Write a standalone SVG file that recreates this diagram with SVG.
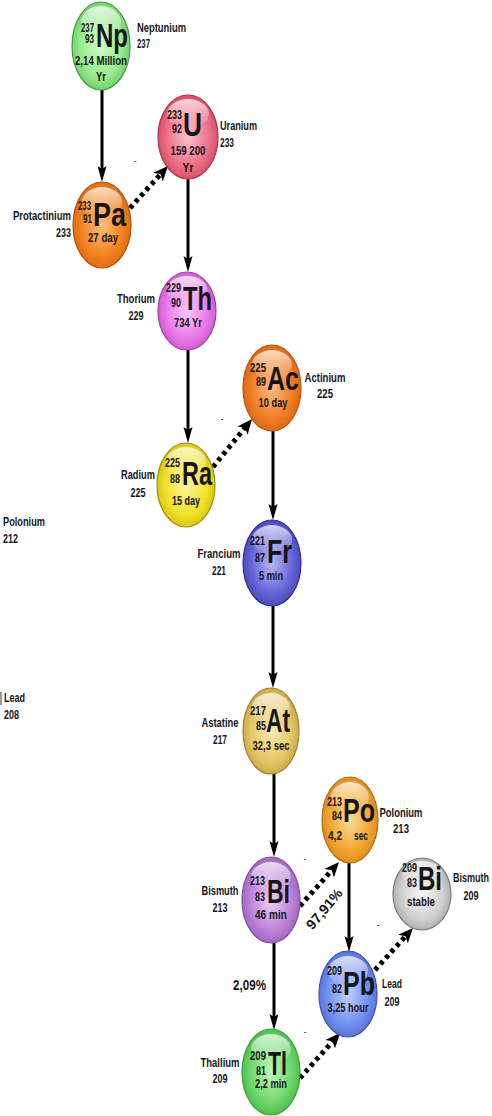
<svg xmlns="http://www.w3.org/2000/svg" width="492" height="1116" viewBox="0 0 492 1116">
  <defs>
    <style>
      text { font-family: "Liberation Sans", Arial, sans-serif; font-weight: bold; fill: #161616; }
      .n { font-size: 13px; text-anchor: end; }
      .s { font-size: 33px; }
      .h { font-size: 13px; text-anchor: middle; }
      .l { font-size: 13px; }
      .lm { font-size: 13px; text-anchor: middle; }
      .pct { font-size: 14px; }
      .m { font-size: 8px; fill: #444; text-anchor: middle; }
      .solid { stroke: #000; stroke-width: 3; fill: none; marker-end: url(#head); }
      .dot { stroke: #000; stroke-width: 5; stroke-dasharray: 4 4; fill: none; marker-end: url(#dhead); }
      .hl { fill: url(#gloss); }
      .ball { stroke-width: 1.2; }
    </style>
    <marker id="head" viewBox="0 -5 17 10" refX="10" refY="0" markerWidth="17" markerHeight="10" markerUnits="userSpaceOnUse" orient="auto">
      <path d="M0,-4.5 L16,0 L0,4.5 L3,0 Z" fill="#000"/>
    </marker>
    <marker id="dhead" viewBox="0 -7 16 14" refX="5" refY="0" markerWidth="16" markerHeight="14" markerUnits="userSpaceOnUse" orient="auto">
      <path d="M0,-6.5 L15,0 L0,6.5 L4,0 Z" fill="#000"/>
    </marker>
    <linearGradient id="gloss" x1="0" y1="0" x2="0" y2="1">
      <stop offset="0" stop-color="#fff" stop-opacity="0.75"/>
      <stop offset="1" stop-color="#fff" stop-opacity="0"/>
    </linearGradient>
    <radialGradient id="gNp" cx="50%" cy="50%" r="60%"><stop offset="0" stop-color="#d2fbc8"/><stop offset="0.6" stop-color="#98ea8e"/><stop offset="1" stop-color="#5cc05a"/></radialGradient>
    <radialGradient id="gU" cx="50%" cy="50%" r="60%"><stop offset="0" stop-color="#fbc0cc"/><stop offset="0.6" stop-color="#ec6f86"/><stop offset="1" stop-color="#c83c58"/></radialGradient>
    <radialGradient id="gPa" cx="50%" cy="50%" r="60%"><stop offset="0" stop-color="#fbbf7c"/><stop offset="0.6" stop-color="#f3831e"/><stop offset="1" stop-color="#d25e0c"/></radialGradient>
    <radialGradient id="gTh" cx="50%" cy="50%" r="60%"><stop offset="0" stop-color="#fbc8fb"/><stop offset="0.6" stop-color="#e878e8"/><stop offset="1" stop-color="#c04cc0"/></radialGradient>
    <radialGradient id="gAc" cx="50%" cy="50%" r="60%"><stop offset="0" stop-color="#fbbd8a"/><stop offset="0.6" stop-color="#f27e22"/><stop offset="1" stop-color="#d05a10"/></radialGradient>
    <radialGradient id="gRa" cx="50%" cy="50%" r="60%"><stop offset="0" stop-color="#fbf6a0"/><stop offset="0.6" stop-color="#f1e228"/><stop offset="1" stop-color="#c8b410"/></radialGradient>
    <radialGradient id="gFr" cx="50%" cy="50%" r="60%"><stop offset="0" stop-color="#b8b8f6"/><stop offset="0.6" stop-color="#6464d8"/><stop offset="1" stop-color="#3a3aa8"/></radialGradient>
    <radialGradient id="gAt" cx="50%" cy="50%" r="60%"><stop offset="0" stop-color="#f6eab8"/><stop offset="0.6" stop-color="#e4c866"/><stop offset="1" stop-color="#b89838"/></radialGradient>
    <radialGradient id="gBi" cx="50%" cy="50%" r="60%"><stop offset="0" stop-color="#ead2f6"/><stop offset="0.6" stop-color="#bc82da"/><stop offset="1" stop-color="#9058b0"/></radialGradient>
    <radialGradient id="gPo" cx="50%" cy="50%" r="60%"><stop offset="0" stop-color="#fbdc96"/><stop offset="0.6" stop-color="#f2a632"/><stop offset="1" stop-color="#d07e12"/></radialGradient>
    <radialGradient id="gBs" cx="50%" cy="50%" r="60%"><stop offset="0" stop-color="#f8f8f8"/><stop offset="0.6" stop-color="#cfcfcf"/><stop offset="1" stop-color="#9c9c9c"/></radialGradient>
    <radialGradient id="gPb" cx="50%" cy="50%" r="60%"><stop offset="0" stop-color="#c4d0fb"/><stop offset="0.6" stop-color="#7090f0"/><stop offset="1" stop-color="#4862c8"/></radialGradient>
    <radialGradient id="gTl" cx="50%" cy="50%" r="60%"><stop offset="0" stop-color="#c4f6bc"/><stop offset="0.6" stop-color="#6cd86a"/><stop offset="1" stop-color="#3eae3e"/></radialGradient>
  </defs>

  <rect width="492" height="1116" fill="#fff"/>

  <!-- decay connectors -->
  <g id="connectors">
    <path class="solid" d="M102,90 V176"/>
    <path class="solid" d="M188,179 V266"/>
    <path class="solid" d="M188,350 V437"/>
    <path class="solid" d="M273,431 V514"/>
    <path class="solid" d="M273,606 V682"/>
    <path class="solid" d="M274,774 V851"/>
    <path class="solid" d="M274,943 V1024"/>
    <path class="solid" d="M349,863 V946"/>
    <path class="dot" d="M130,208 L161.3,173.4"/>
    <path class="dot" d="M213,467 L245.7,426.8"/>
    <path class="dot" d="M300,906 L332.4,869.5"/>
    <path class="dot" d="M375,970 L406.3,935.4"/>
    <path class="dot" d="M300,1078 L333.4,1040.5"/>
    <text class="m" x="135" y="163">-</text>
    <text class="m" x="222" y="421">-</text>
    <text class="m" x="305" y="861">-</text>
    <text class="m" x="378" y="927">-</text>
    <text class="m" x="305" y="1034">-</text>
    <text class="pct" transform="translate(328,912) rotate(-50)" text-anchor="middle" textLength="48" lengthAdjust="spacingAndGlyphs">97,91%</text>
    <text class="pct" x="233" y="990" textLength="33" lengthAdjust="spacingAndGlyphs">2,09%</text>
  </g>

  <g id="np237">
    <ellipse class="ball" cx="101" cy="46" rx="29" ry="44" fill="url(#gNp)" stroke="#3f9a3f"/>
    <ellipse class="hl" cx="101" cy="22" rx="20" ry="16"/>
    <text class="n" x="94" y="32" textLength="13" lengthAdjust="spacingAndGlyphs">237</text>
    <text class="n" x="94" y="43" textLength="9" lengthAdjust="spacingAndGlyphs">93</text>
    <text class="s" x="96" y="47" textLength="32" lengthAdjust="spacingAndGlyphs">Np</text>
    <text class="h" x="101" y="65" textLength="52" lengthAdjust="spacingAndGlyphs">2,14 Million</text>
    <text class="h" x="101" y="81" textLength="10" lengthAdjust="spacingAndGlyphs">Yr</text>
    <text class="l" x="137" y="32" textLength="49" lengthAdjust="spacingAndGlyphs">Neptunium</text>
    <text class="l" x="137" y="48" textLength="13" lengthAdjust="spacingAndGlyphs">237</text>
  </g>

  <g id="pa233">
    <ellipse class="ball" cx="102" cy="225" rx="29" ry="43" fill="url(#gPa)" stroke="#b05010"/>
    <ellipse class="hl" cx="102" cy="202" rx="20" ry="15"/>
    <text class="n" x="91" y="210" textLength="13" lengthAdjust="spacingAndGlyphs">233</text>
    <text class="n" x="92" y="223" textLength="9" lengthAdjust="spacingAndGlyphs">91</text>
    <text class="s" x="93" y="226" textLength="33" lengthAdjust="spacingAndGlyphs">Pa</text>
    <text class="h" x="103" y="242" textLength="30" lengthAdjust="spacingAndGlyphs">27 day</text>
    <text class="l" x="71" y="220" text-anchor="end" textLength="58" lengthAdjust="spacingAndGlyphs">Protactinium</text>
    <text class="l" x="71" y="237" text-anchor="end" textLength="15" lengthAdjust="spacingAndGlyphs">233</text>
  </g>

  <g id="u233">
    <ellipse class="ball" cx="188" cy="137" rx="30" ry="42" fill="url(#gU)" stroke="#b03050"/>
    <ellipse class="hl" cx="188" cy="114" rx="21" ry="15"/>
    <text class="n" x="182" y="119" textLength="15" lengthAdjust="spacingAndGlyphs">233</text>
    <text class="n" x="182" y="133" textLength="10" lengthAdjust="spacingAndGlyphs">92</text>
    <text class="s" x="183" y="136" textLength="19" lengthAdjust="spacingAndGlyphs">U</text>
    <text class="h" x="188" y="155" textLength="35" lengthAdjust="spacingAndGlyphs">159 200</text>
    <text class="h" x="188" y="172" textLength="11" lengthAdjust="spacingAndGlyphs">Yr</text>
    <text class="l" x="220" y="130" textLength="37" lengthAdjust="spacingAndGlyphs">Uranium</text>
    <text class="l" x="220" y="147" textLength="14" lengthAdjust="spacingAndGlyphs">233</text>
  </g>

  <g id="th229">
    <ellipse class="ball" cx="187" cy="311" rx="29" ry="39" fill="url(#gTh)" stroke="#a040a0"/>
    <ellipse class="hl" cx="187" cy="290" rx="20" ry="14"/>
    <text class="n" x="181" y="292" textLength="15" lengthAdjust="spacingAndGlyphs">229</text>
    <text class="n" x="181" y="307" textLength="10" lengthAdjust="spacingAndGlyphs">90</text>
    <text class="s" x="183" y="310" textLength="29" lengthAdjust="spacingAndGlyphs">Th</text>
    <text class="h" x="188" y="327" textLength="28" lengthAdjust="spacingAndGlyphs">734 Yr</text>
    <text class="lm" x="136" y="303" textLength="38" lengthAdjust="spacingAndGlyphs">Thorium</text>
    <text class="lm" x="136" y="320" textLength="15" lengthAdjust="spacingAndGlyphs">229</text>
  </g>

  <g id="ac225">
    <ellipse class="ball" cx="272" cy="388" rx="29" ry="43" fill="url(#gAc)" stroke="#c05010"/>
    <ellipse class="hl" cx="272" cy="365" rx="20" ry="15"/>
    <text class="n" x="266" y="372" textLength="16" lengthAdjust="spacingAndGlyphs">225</text>
    <text class="n" x="266" y="386" textLength="10" lengthAdjust="spacingAndGlyphs">89</text>
    <text class="s" x="267" y="390" textLength="32" lengthAdjust="spacingAndGlyphs">Ac</text>
    <text class="h" x="273" y="407" textLength="29" lengthAdjust="spacingAndGlyphs">10 day</text>
    <text class="lm" x="325" y="382" textLength="41" lengthAdjust="spacingAndGlyphs">Actinium</text>
    <text class="lm" x="325" y="398" textLength="16" lengthAdjust="spacingAndGlyphs">225</text>
  </g>

  <g id="ra225">
    <ellipse class="ball" cx="186" cy="485" rx="29" ry="42" fill="url(#gRa)" stroke="#a09010"/>
    <ellipse class="hl" cx="186" cy="462" rx="20" ry="15"/>
    <text class="n" x="180" y="467" textLength="15" lengthAdjust="spacingAndGlyphs">225</text>
    <text class="n" x="180" y="483" textLength="10" lengthAdjust="spacingAndGlyphs">88</text>
    <text class="s" x="182" y="485" textLength="30" lengthAdjust="spacingAndGlyphs">Ra</text>
    <text class="h" x="186" y="505" textLength="28" lengthAdjust="spacingAndGlyphs">15 day</text>
    <text class="lm" x="138" y="479" textLength="34" lengthAdjust="spacingAndGlyphs">Radium</text>
    <text class="lm" x="138" y="497" textLength="15" lengthAdjust="spacingAndGlyphs">225</text>
  </g>

  <g id="fr221">
    <ellipse class="ball" cx="272" cy="563" rx="29" ry="43" fill="url(#gFr)" stroke="#303090"/>
    <ellipse class="hl" cx="272" cy="540" rx="20" ry="15"/>
    <text class="n" x="265" y="545" textLength="15" lengthAdjust="spacingAndGlyphs">221</text>
    <text class="n" x="265" y="562" textLength="10" lengthAdjust="spacingAndGlyphs">87</text>
    <text class="s" x="267" y="563" textLength="25" lengthAdjust="spacingAndGlyphs">Fr</text>
    <text class="h" x="271" y="580" textLength="24" lengthAdjust="spacingAndGlyphs">5 min</text>
    <text class="lm" x="219" y="558" textLength="43" lengthAdjust="spacingAndGlyphs">Francium</text>
    <text class="lm" x="219" y="575" textLength="14" lengthAdjust="spacingAndGlyphs">221</text>
  </g>

  <g id="at217">
    <ellipse class="ball" cx="271" cy="731" rx="28" ry="43" fill="url(#gAt)" stroke="#a08030"/>
    <ellipse class="hl" cx="271" cy="708" rx="19" ry="15"/>
    <text class="n" x="266" y="715" textLength="16" lengthAdjust="spacingAndGlyphs">217</text>
    <text class="n" x="266" y="730" textLength="10" lengthAdjust="spacingAndGlyphs">85</text>
    <text class="s" x="266" y="732" textLength="24" lengthAdjust="spacingAndGlyphs">At</text>
    <text class="h" x="271" y="750" textLength="37" lengthAdjust="spacingAndGlyphs">32,3 sec</text>
    <text class="lm" x="220" y="727" textLength="37" lengthAdjust="spacingAndGlyphs">Astatine</text>
    <text class="lm" x="220" y="744" textLength="14" lengthAdjust="spacingAndGlyphs">217</text>
  </g>

  <g id="bi213">
    <ellipse class="ball" cx="271" cy="900" rx="29" ry="43" fill="url(#gBi)" stroke="#805098"/>
    <ellipse class="hl" cx="271" cy="877" rx="20" ry="15"/>
    <text class="n" x="265" y="885" textLength="15" lengthAdjust="spacingAndGlyphs">213</text>
    <text class="n" x="265" y="901" textLength="10" lengthAdjust="spacingAndGlyphs">83</text>
    <text class="s" x="267" y="903" textLength="23" lengthAdjust="spacingAndGlyphs">Bi</text>
    <text class="h" x="271" y="919" textLength="32" lengthAdjust="spacingAndGlyphs">46 min</text>
    <text class="lm" x="220" y="895" textLength="37" lengthAdjust="spacingAndGlyphs">Bismuth</text>
    <text class="lm" x="220" y="912" textLength="15" lengthAdjust="spacingAndGlyphs">213</text>
  </g>

  <g id="po213">
    <ellipse class="ball" cx="350" cy="820" rx="28" ry="43" fill="url(#gPo)" stroke="#b07010"/>
    <ellipse class="hl" cx="350" cy="797" rx="19" ry="15"/>
    <text class="n" x="342" y="806" textLength="15" lengthAdjust="spacingAndGlyphs">213</text>
    <text class="n" x="342" y="820" textLength="10" lengthAdjust="spacingAndGlyphs">84</text>
    <text class="s" x="343" y="822" textLength="32" lengthAdjust="spacingAndGlyphs">Po</text>
    <text class="h" x="335" y="840" textLength="14" lengthAdjust="spacingAndGlyphs">4,2</text>
    <text class="h" x="361" y="840" textLength="14" lengthAdjust="spacingAndGlyphs">sec</text>
    <text class="lm" x="401" y="817" textLength="43" lengthAdjust="spacingAndGlyphs">Polonium</text>
    <text class="lm" x="401" y="833" textLength="16" lengthAdjust="spacingAndGlyphs">213</text>
  </g>

  <g id="bi209">
    <ellipse class="ball" cx="422" cy="894" rx="29" ry="36" fill="url(#gBs)" stroke="#7a7a7a"/>
    <ellipse class="hl" cx="422" cy="874" rx="20" ry="13"/>
    <text class="n" x="417" y="872" textLength="15" lengthAdjust="spacingAndGlyphs">209</text>
    <text class="n" x="417" y="887" textLength="10" lengthAdjust="spacingAndGlyphs">83</text>
    <text class="s" x="418" y="890" textLength="24" lengthAdjust="spacingAndGlyphs">Bi</text>
    <text class="h" x="421" y="906" textLength="28" lengthAdjust="spacingAndGlyphs">stable</text>
    <text class="lm" x="471" y="882" textLength="36" lengthAdjust="spacingAndGlyphs">Bismuth</text>
    <text class="lm" x="471" y="900" textLength="15" lengthAdjust="spacingAndGlyphs">209</text>
  </g>

  <g id="pb209">
    <ellipse class="ball" cx="348" cy="994" rx="29" ry="43" fill="url(#gPb)" stroke="#4050b0"/>
    <ellipse class="hl" cx="348" cy="971" rx="20" ry="15"/>
    <text class="n" x="342" y="975" textLength="15" lengthAdjust="spacingAndGlyphs">209</text>
    <text class="n" x="342" y="993" textLength="10" lengthAdjust="spacingAndGlyphs">82</text>
    <text class="s" x="343" y="995" textLength="32" lengthAdjust="spacingAndGlyphs">Pb</text>
    <text class="h" x="348" y="1012" textLength="41" lengthAdjust="spacingAndGlyphs">3,25 hour</text>
    <text class="lm" x="392" y="988" textLength="20" lengthAdjust="spacingAndGlyphs">Lead</text>
    <text class="lm" x="392" y="1006" textLength="15" lengthAdjust="spacingAndGlyphs">209</text>
  </g>

  <g id="tl209">
    <ellipse class="ball" cx="271" cy="1072" rx="29" ry="43" fill="url(#gTl)" stroke="#38a038"/>
    <ellipse class="hl" cx="271" cy="1049" rx="20" ry="15"/>
    <text class="n" x="266" y="1060" textLength="16" lengthAdjust="spacingAndGlyphs">209</text>
    <text class="n" x="266" y="1075" textLength="10" lengthAdjust="spacingAndGlyphs">81</text>
    <text class="s" x="268" y="1075" textLength="19" lengthAdjust="spacingAndGlyphs">Tl</text>
    <text class="h" x="271" y="1088" textLength="32" lengthAdjust="spacingAndGlyphs">2,2 min</text>
    <text class="lm" x="220" y="1067" textLength="39" lengthAdjust="spacingAndGlyphs">Thallium</text>
    <text class="lm" x="220" y="1083" textLength="15" lengthAdjust="spacingAndGlyphs">209</text>
  </g>

  <g id="po212">
    <text class="l" x="3" y="526" textLength="42" lengthAdjust="spacingAndGlyphs">Polonium</text>
    <text class="l" x="3" y="543" textLength="15" lengthAdjust="spacingAndGlyphs">212</text>
  </g>

  <g id="pb208">
    <line x1="1" y1="692" x2="1" y2="705" stroke="#555" stroke-width="1.2"/>
    <text class="l" x="4" y="702" textLength="21" lengthAdjust="spacingAndGlyphs">Lead</text>
    <text class="l" x="4" y="719" textLength="15" lengthAdjust="spacingAndGlyphs">208</text>
  </g>
</svg>
